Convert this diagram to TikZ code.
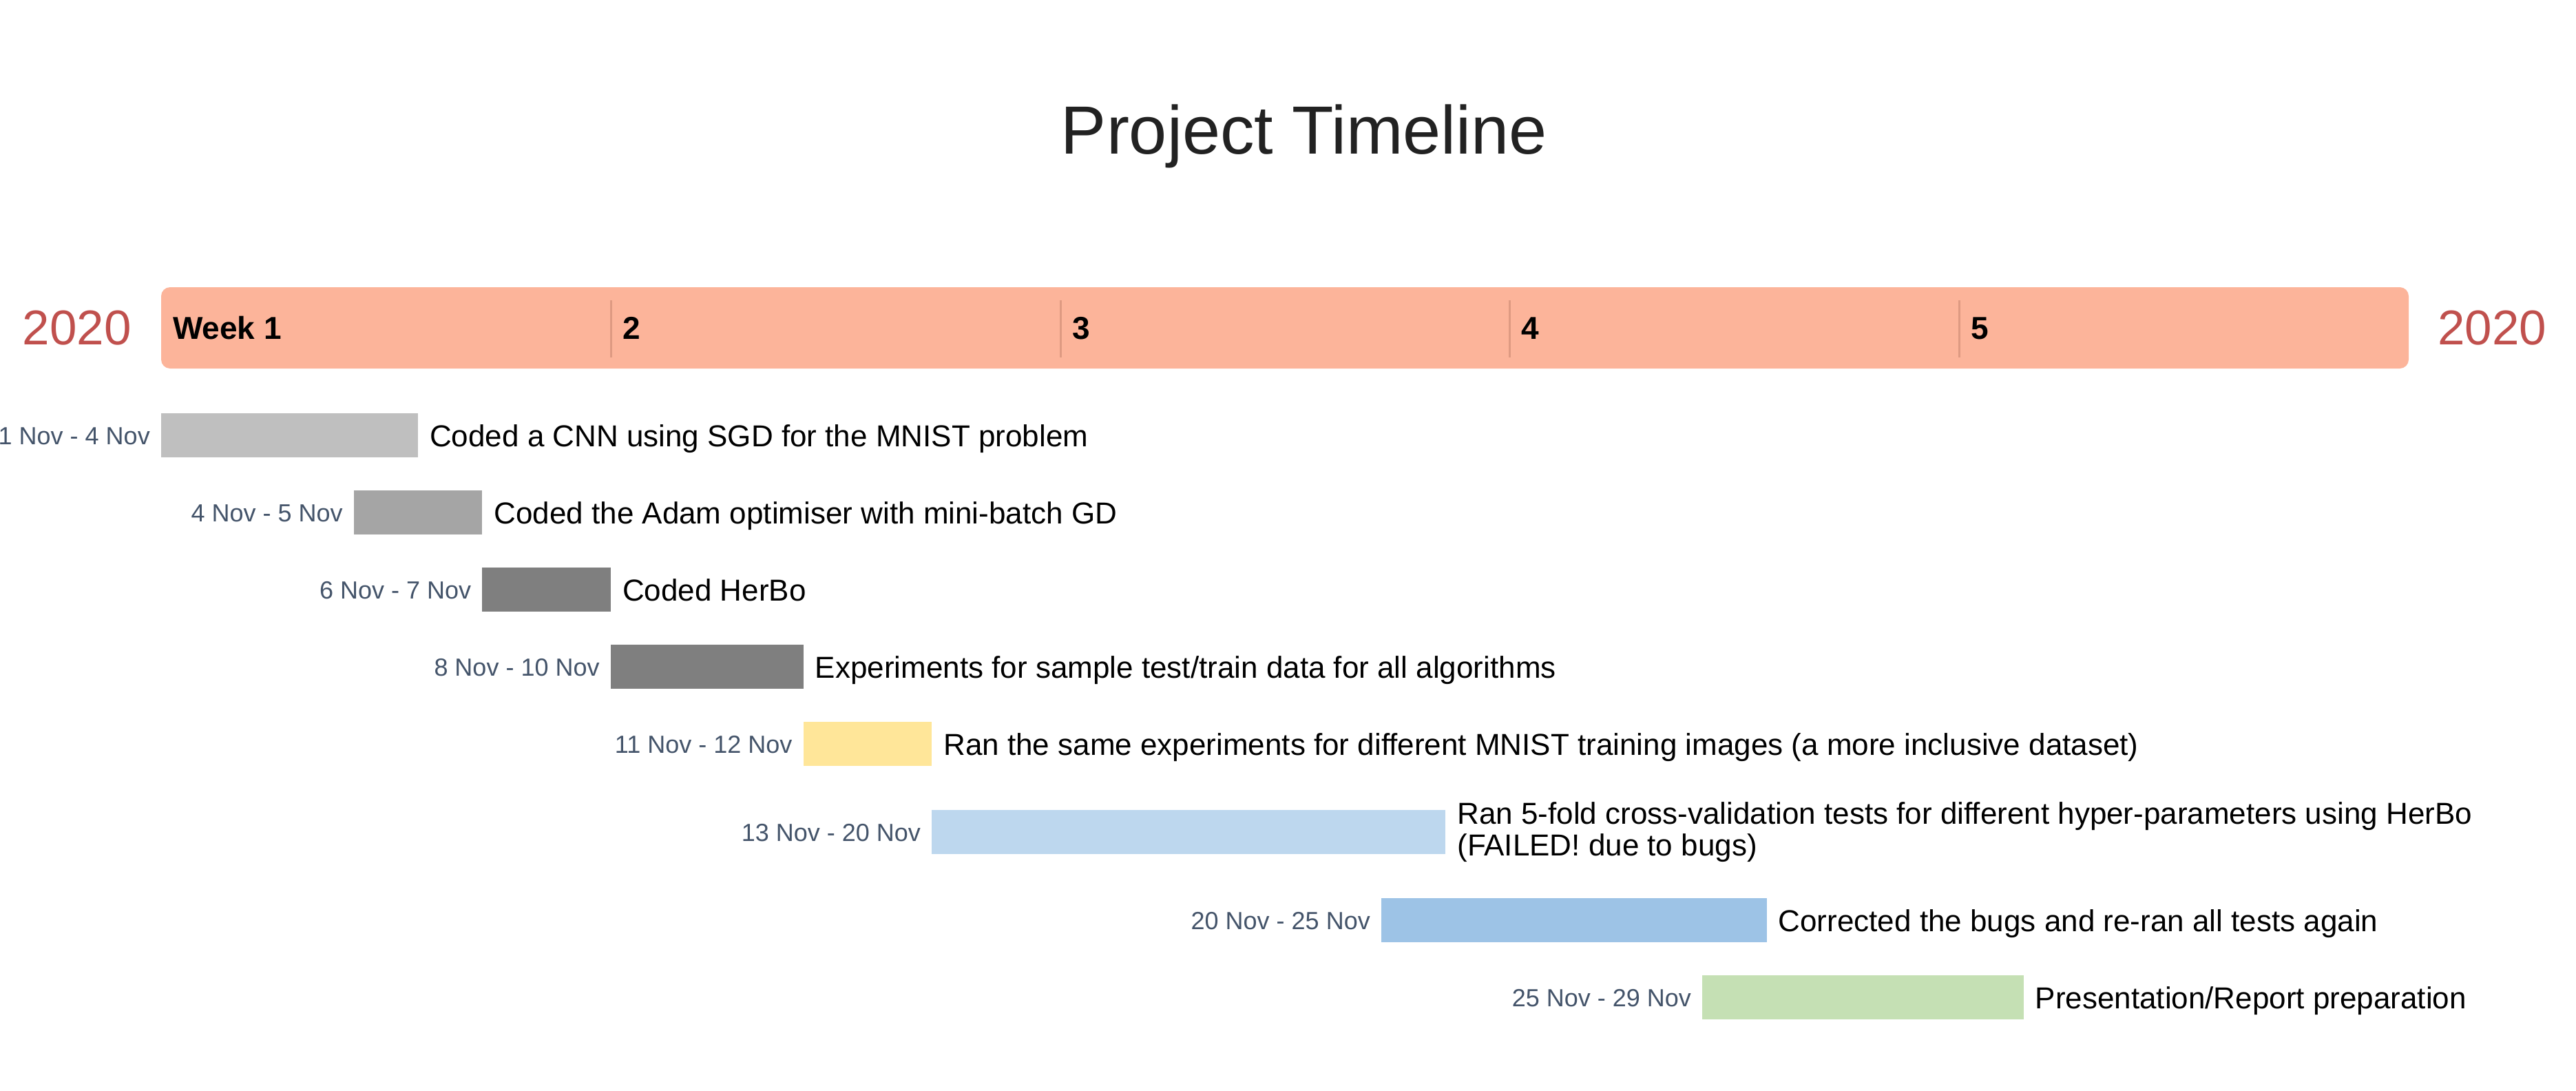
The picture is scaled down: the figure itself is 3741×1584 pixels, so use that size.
\documentclass[tikz,border=0pt]{standalone}
\usepackage{fontspec}
\setmainfont{Liberation Sans}
\usetikzlibrary{calc}
\definecolor{hdrcol}{HTML}{FCB49A}
\definecolor{divcol}{HTML}{DE9A82}
\definecolor{yearcol}{HTML}{C0504D}
\definecolor{titlecol}{HTML}{222222}
\definecolor{datecol}{HTML}{44546A}
\definecolor{cA}{HTML}{BFBFBF}
\definecolor{cB}{HTML}{A5A5A5}
\definecolor{cC}{HTML}{7F7F7F}
\definecolor{cD}{HTML}{FFE699}
\definecolor{cE}{HTML}{BDD7EE}
\definecolor{cF}{HTML}{9DC3E6}
\definecolor{cG}{HTML}{C5E0B4}
\tikzset{
  taskbar/.style={draw=none, inner sep=0pt, outer sep=0pt, minimum height=64pt, anchor=west},
  datelbl/.style={font=\fontsize{36}{43}\selectfont, text=datecol, anchor=base east, inner sep=0pt},
  tasklbl/.style={font=\fontsize{44}{46}\selectfont, text=black, anchor=base west, inner sep=0pt},
  weeklbl/.style={font=\fontsize{46}{55}\selectfont\bfseries, text=black, anchor=base west, inner sep=0pt},
  yearlbl/.style={font=\fontsize{71}{85}\selectfont, text=yearcol, inner sep=0pt},
  divline/.style={draw=divcol, line width=3pt},
}
\begin{document}
\begin{tikzpicture}[x=1pt,y=-1pt]
\useasboundingbox[fill=white] (0,0) rectangle (3741,1584);

\node[font=\fontsize{99}{118}\selectfont, text=titlecol, anchor=base, inner sep=0pt] (title) at (1894,223) {Project Timeline};

\node[fill=hdrcol, rounded corners=13pt, inner sep=0pt, outer sep=0pt, minimum width=3264pt, minimum height=118pt, anchor=north west] (hdr) at (234,417) {};
\draw[divline] (887,436) -- (887,519);
\draw[divline] (1540,436) -- (1540,519);
\draw[divline] (2192,436) -- (2192,519);
\draw[divline] (2845,436) -- (2845,519);
\node[weeklbl] (w1) at (251,492) {Week 1};
\node[weeklbl] (w2) at (904,492) {2};
\node[weeklbl] (w3) at (1557,492) {3};
\node[weeklbl] (w4) at (2209,492) {4};
\node[weeklbl] (w5) at (2862,492) {5};
\node[yearlbl, anchor=base east] (yl) at ($(hdr.west)+(-43,24)$) {2020};
\node[yearlbl, anchor=base west] (yr) at ($(hdr.east)+(42,24)$) {2020};

% task bars
\node[taskbar, fill=cA, minimum width=373pt] (b1) at (234,632) {};
\node[taskbar, fill=cB, minimum width=186.5pt] (b2) at (513.8,744) {};
\node[taskbar, fill=cC, minimum width=186.5pt] (b3) at (700.3,856) {};
\node[taskbar, fill=cC, minimum width=279.8pt] (b4) at (886.8,968) {};
\node[taskbar, fill=cD, minimum width=186.5pt] (b5) at (1166.6,1080) {};
\node[taskbar, fill=cE, minimum width=746.1pt] (b6) at (1353.1,1208) {};
\node[taskbar, fill=cF, minimum width=559.5pt] (b7) at (2006.0,1336) {};
\node[taskbar, fill=cG, minimum width=466.3pt] (b8) at (2472.2,1448) {};

% date labels
\node[datelbl] (d1) at ($(b1.west)+(-16,13)$) {1 Nov - 4 Nov};
\node[datelbl] (d2) at ($(b2.west)+(-16,13)$) {4 Nov - 5 Nov};
\node[datelbl] (d3) at ($(b3.west)+(-16,13)$) {6 Nov - 7 Nov};
\node[datelbl] (d4) at ($(b4.west)+(-16,13)$) {8 Nov - 10 Nov};
\node[datelbl] (d5) at ($(b5.west)+(-16,13)$) {11 Nov - 12 Nov};
\node[datelbl] (d6) at ($(b6.west)+(-16,13)$) {13 Nov - 20 Nov};
\node[datelbl] (d7) at ($(b7.west)+(-16,13)$) {20 Nov - 25 Nov};
\node[datelbl] (d8) at ($(b8.west)+(-16,13)$) {25 Nov - 29 Nov};

% task labels
\node[tasklbl] (t1) at ($(b1.east)+(17,16)$) {Coded a CNN using SGD for the MNIST problem};
\node[tasklbl] (t2) at ($(b2.east)+(17,16)$) {Coded the Adam optimiser with mini-batch GD};
\node[tasklbl] (t3) at ($(b3.east)+(17,16)$) {Coded HerBo};
\node[tasklbl] (t4) at ($(b4.east)+(17,16)$) {Experiments for sample test/train data for all algorithms};
\node[tasklbl] (t5) at ($(b5.east)+(17,16)$) {Ran the same experiments for different MNIST training images (a more inclusive dataset)};
\node[tasklbl, anchor=west, align=left] (t6) at ($(b6.east)+(17,0)$) {Ran 5-fold cross-validation tests for different hyper-parameters using HerBo\\(FAILED! due to bugs)};
\node[tasklbl] (t7) at ($(b7.east)+(17,16)$) {Corrected the bugs and re-ran all tests again};
\node[tasklbl] (t8) at ($(b8.east)+(17,16)$) {Presentation/Report preparation};
\end{tikzpicture}
\end{document}
